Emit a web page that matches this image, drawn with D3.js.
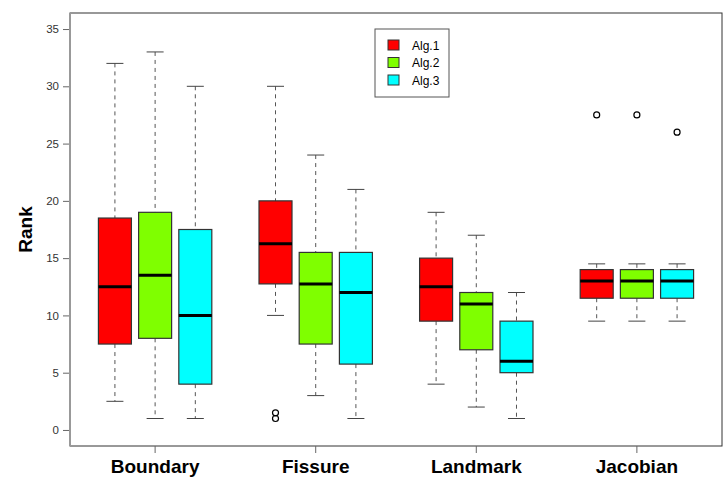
<!DOCTYPE html>
<html>
<head>
<meta charset="utf-8">
<script src="https://cdn.jsdelivr.net/npm/d3@7"></script>
<style>
  body { margin: 0; background: #fff; font-family: "Liberation Sans", Arial, sans-serif; }
</style>
</head>
<body>
<div id="chart"></div>
<script>
// data
const groups = ["Boundary", "Fissure", "Landmark", "Jacobian"]
const algs = ["Alg.1", "Alg.2", "Alg.3"]
const algColors = ["#ff0000", "#7fff00", "#00ffff"]

// one row per group, one value per algorithm
const whiskerLow = [[2.5, 1, 1], [10, 3, 1], [4, 2, 1], [9.5, 9.5, 9.5]]
const q1 = [[7.5, 8, 4], [12.75, 7.5, 5.75], [9.5, 7, 5], [11.5, 11.5, 11.5]]
const median = [[12.5, 13.5, 10], [16.25, 12.75, 12], [12.5, 11, 6], [13, 13, 13]]
const q3 = [[18.5, 19, 17.5], [20, 15.5, 15.5], [15, 12, 9.5], [14, 14, 14]]
const whiskerHigh = [[32, 33, 30], [30, 24, 21], [19, 17, 12], [14.5, 14.5, 14.5]]
const outliers = [[[], [], []], [[1.5, 1], [], []], [[], [], []], [[27.5], [27.5], [26]]]

const yTicks = [0, 5, 10, 15, 20, 25, 30, 35]

function drawChart() {

  // Set dimensions
    let dimensions = {
        width: 725,
        height: 484,
        margin: {
            top: 13,
            right: 3,
            bottom: 38,
            left: 70,
        }
    }
    dimensions.boundedWidth = dimensions.width
        - dimensions.margin.left
        - dimensions.margin.right
    dimensions.boundedHeight = dimensions.height
        - dimensions.margin.top
        - dimensions.margin.bottom

    const svg = d3.select("#chart")
        .append("svg")
        .attr("width", dimensions.width)
        .attr("height", dimensions.height)

    const bounds = svg.append("g")
        .attr("transform", `translate(${dimensions.margin.left}, ${dimensions.margin.top})`)

  // Scales
    const yScale = d3.scaleLinear()
        .domain([-1.4, 36.4])
        .range([dimensions.boundedHeight, 0])

    const xGroup = d3.scaleBand()
        .domain(groups)
        .range([0, dimensions.boundedWidth])
        .paddingOuter(0.03)

    const xAlg = d3.scalePoint()
        .domain(algs)
        .range([-40.2, 40.2])

    const boxWidth = 33
    const capWidth = 17

  // Boxes
    const rows = []
    groups.forEach((g, gi) => {
        algs.forEach((a, ai) => {
            rows.push({
                group: g, alg: a, color: algColors[ai],
                lo: whiskerLow[gi][ai], q1: q1[gi][ai], med: median[gi][ai],
                q3: q3[gi][ai], hi: whiskerHigh[gi][ai], out: outliers[gi][ai],
            })
        })
    })
    const cx = d => xGroup(d.group) + xGroup.bandwidth() / 2 + xAlg(d.alg)

    const boxes = bounds.selectAll(".box")
        .data(rows)
        .enter().append("g")
        .attr("class", "box")

    // whiskers
    boxes.append("line")
        .attr("x1", cx).attr("x2", cx)
        .attr("y1", d => yScale(d.hi)).attr("y2", d => yScale(d.q3))
        .attr("stroke", "#555").attr("stroke-dasharray", "4,4")
    boxes.append("line")
        .attr("x1", cx).attr("x2", cx)
        .attr("y1", d => yScale(d.q1)).attr("y2", d => yScale(d.lo))
        .attr("stroke", "#555").attr("stroke-dasharray", "4,4")
    // caps
    boxes.append("line")
        .attr("x1", d => cx(d) - capWidth / 2).attr("x2", d => cx(d) + capWidth / 2)
        .attr("y1", d => yScale(d.hi)).attr("y2", d => yScale(d.hi))
        .attr("stroke", "#444")
    boxes.append("line")
        .attr("x1", d => cx(d) - capWidth / 2).attr("x2", d => cx(d) + capWidth / 2)
        .attr("y1", d => yScale(d.lo)).attr("y2", d => yScale(d.lo))
        .attr("stroke", "#444")

    boxes.append("rect")
        .attr("x", d => cx(d) - boxWidth / 2)
        .attr("width", boxWidth)
        .attr("y", d => yScale(d.q3))
        .attr("height", d => yScale(d.q1) - yScale(d.q3))
        .attr("fill", d => d.color)
        .attr("stroke", "#333")
        .attr("stroke-width", 1.2)

    boxes.append("line")
        .attr("x1", d => cx(d) - boxWidth / 2).attr("x2", d => cx(d) + boxWidth / 2)
        .attr("y1", d => yScale(d.med)).attr("y2", d => yScale(d.med))
        .attr("stroke", "#000").attr("stroke-width", 3)

    boxes.selectAll(".outlier")
        .data(d => d.out.map(v => ({ v, x: cx(d) })))
        .enter().append("circle")
        .attr("class", "outlier")
        .attr("cx", d => d.x)
        .attr("cy", d => yScale(d.v))
        .attr("r", 3)
        .attr("fill", "none")
        .attr("stroke", "#000")
        .attr("stroke-width", 1.2)

  // Frame
    bounds.append("rect")
        .attr("width", dimensions.boundedWidth)
        .attr("height", dimensions.boundedHeight)
        .attr("fill", "none")
        .attr("stroke", "#333")

  // Y axis
    const yAxis = bounds.append("g")
        .call(d3.axisLeft(yScale).tickValues(yTicks).tickSize(7).tickPadding(4))
    yAxis.select(".domain").remove()
    yAxis.selectAll(".tick line").attr("stroke", "#666")
    yAxis.selectAll("text")
        .attr("fill", "#333")
        .style("font-family", "Liberation Sans, Arial, sans-serif")
        .style("font-size", "11.5px")
    bounds.append("line")
        .attr("x1", 0).attr("x2", 0)
        .attr("y1", 0).attr("y2", dimensions.boundedHeight)
        .attr("stroke", "#999").attr("stroke-width", 2)

    bounds.append("text")
        .attr("transform", `translate(-38, ${yScale(17.5)}) rotate(-90)`)
        .attr("text-anchor", "middle")
        .style("font-family", "Liberation Sans, Arial, sans-serif")
        .style("font-size", "19px")
        .style("font-weight", "bold")
        .text("Rank")

  // X axis
    const xAxis = bounds.append("g")
        .attr("transform", `translate(0, ${dimensions.boundedHeight})`)
        .call(d3.axisBottom(xGroup).tickSize(7).tickPadding(7))
    xAxis.select(".domain").remove()
    xAxis.selectAll(".tick line").attr("stroke", "#666")
    xAxis.selectAll("text")
        .attr("fill", "#000")
        .style("font-family", "Liberation Sans, Arial, sans-serif")
        .style("font-size", "19px")
        .style("font-weight", "bold")

  // Legend
    const legend = svg.append("g")
        .attr("transform", "translate(375, 29)")
    legend.append("rect")
        .attr("width", 74)
        .attr("height", 68)
        .attr("fill", "#fff")
        .attr("stroke", "#555")
    const items = legend.selectAll(".item")
        .data(algs)
        .enter().append("g")
        .attr("class", "item")
        .attr("transform", (d, i) => `translate(0, ${16 + i * 17.5})`)
    items.append("rect")
        .attr("x", 13).attr("y", -5)
        .attr("width", 11).attr("height", 10)
        .attr("fill", (d, i) => algColors[i])
        .attr("stroke", "#333")
    items.append("text")
        .attr("x", 37).attr("y", 4.5)
        .style("font-family", "Liberation Sans, Arial, sans-serif")
        .style("font-size", "12px")
        .text(d => d)
}
drawChart()
</script>
</body>
</html>
